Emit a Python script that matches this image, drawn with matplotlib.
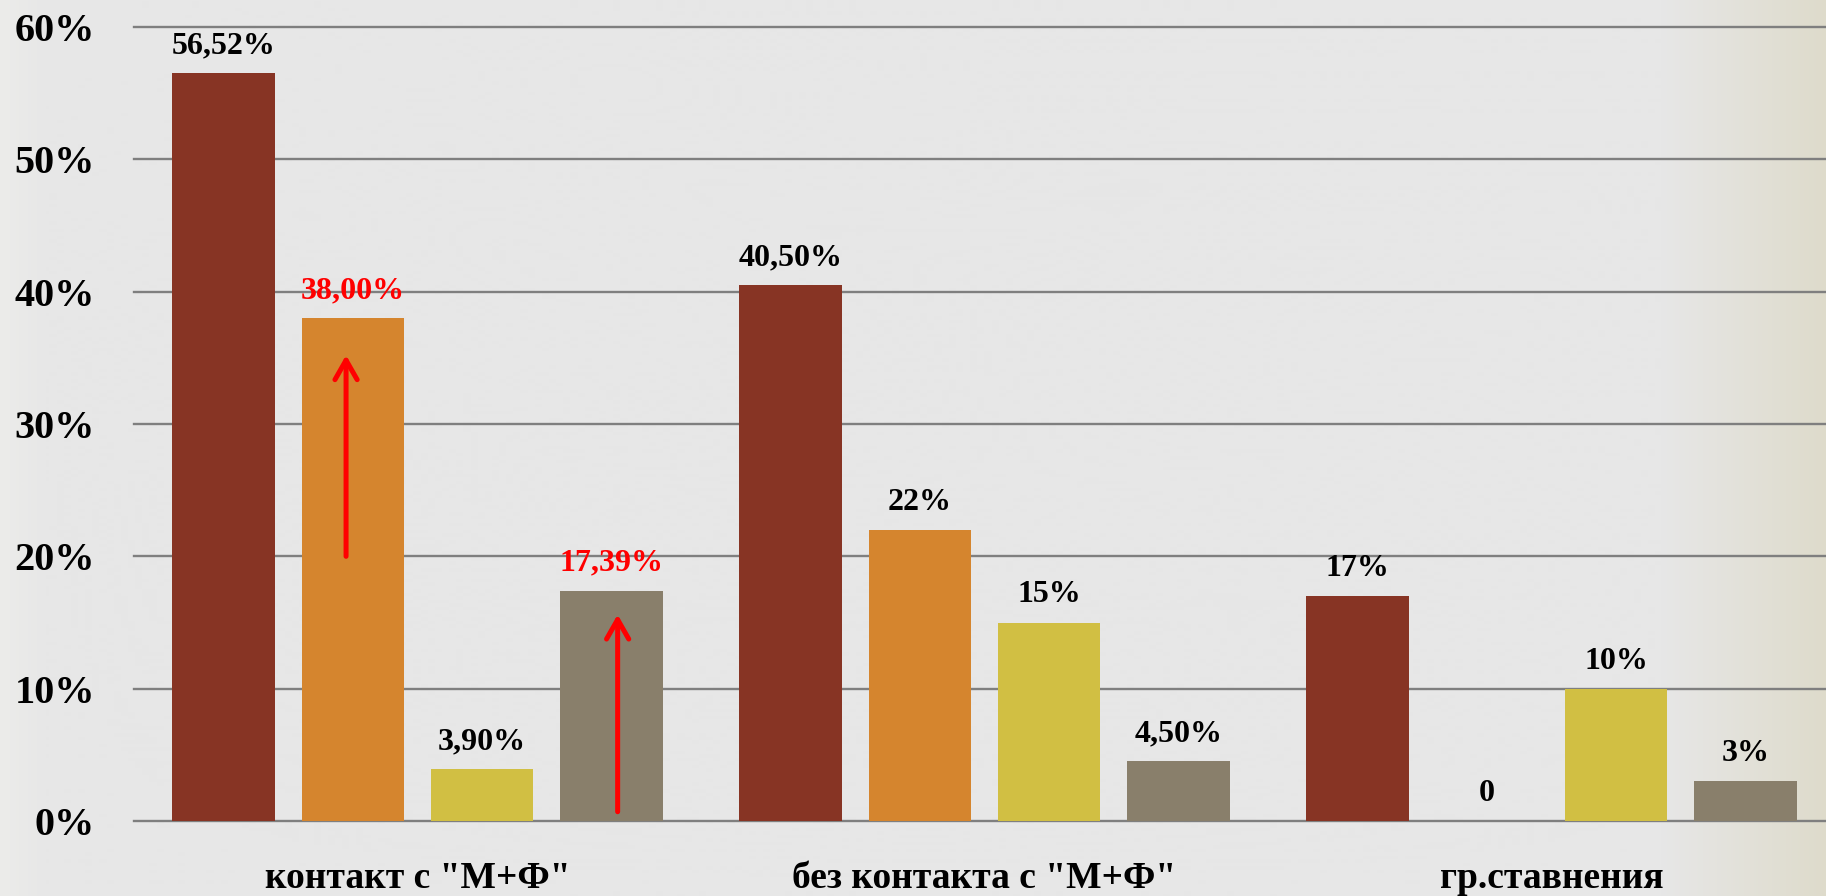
import numpy as np
import matplotlib
matplotlib.use("Agg")
import matplotlib.pyplot as plt

# ---- data -------------------------------------------------------------
categories = ['контакт с "М+Ф"', 'без контакта с "М+Ф"', 'гр.ставнения']
series_values = [
    [56.52, 40.50, 17.0],   # series 1
    [38.00, 22.0, 0.0],     # series 2
    [3.90, 15.0, 10.0],     # series 3
    [17.39, 4.50, 3.0],     # series 4
]
value_labels = [
    ["56,52%", "40,50%", "17%"],
    ["38,00%", "22%", "0"],
    ["3,90%", "15%", "10%"],
    ["17,39%", "4,50%", "3%"],
]
highlighted = {(1, 0), (3, 0)}            # (series, category) labels in red
ytick_values = [0, 10, 20, 30, 40, 50, 60]
ytick_labels = ["0%", "10%", "20%", "30%", "40%", "50%", "60%"]
# growth arrows: (series, category, from, to)
arrows = [(1, 0, 20.0, 35.2), (3, 0, 0.7, 15.6)]
arrow_shift = [-0.012, 0.011]             # small sideways nudge inside the bar

colors = ["#873424", "#D5852E", "#D1BF43", "#897F6B"]
FONT = "Liberation Serif"

W, H, DPI = 1826, 896, 100
fig = plt.figure(figsize=(W / DPI, H / DPI), dpi=DPI)

# ---- background: light grey with a warm fade on the right --------------
bg_ax = fig.add_axes([0, 0, 1, 1], zorder=-10)
xs = np.arange(W)
base = np.array([0xE7, 0xE7, 0xE7], float)
warm = np.array([0xDE, 0xDB, 0xCB], float)
left = np.array([0xEC, 0xEC, 0xEA], float)
t_right = np.clip((xs - 1660) / (W - 1660), 0, 1)[:, None]
t_left = np.clip(1 - xs / 45, 0, 1)[:, None]
row = base * (1 - t_right) + warm * t_right
row = row * (1 - t_left) + left * t_left
bg = np.repeat(row[None, :, :], H, axis=0) / 255.0
bg_ax.imshow(bg, aspect="auto", extent=[0, 1, 0, 1])
bg_ax.set_axis_off()

# ---- chart ------------------------------------------------------------
x0, x1 = 134, W
y0, y1 = 821, 27
ax = fig.add_axes([x0 / W, 1 - y0 / H, (x1 - x0) / W, (y0 - y1) / H])
ax.set_facecolor("none")

cat_px = 567.0
ax.set_xlim(-0.5, -0.5 + (x1 - x0) / cat_px)
ax.set_ylim(0, 60)

step = 0.228
width = 0.181
xc = np.arange(len(categories))

for i, vals in enumerate(series_values):
    pos = xc + (i - 1.5) * step
    ax.bar(pos, vals, width=width, color=colors[i], zorder=3, linewidth=0)
    for j, (p, v) in enumerate(zip(pos, vals)):
        c = "#FF0000" if (i, j) in highlighted else "black"
        ax.annotate(value_labels[i][j], xy=(p, v), xytext=(0, 14.5),
                    textcoords="offset points", ha="center", va="baseline",
                    fontsize=23, fontweight="bold", family=FONT, color=c,
                    zorder=5)

for (s, cidx, y_from, y_to), dx in zip(arrows, arrow_shift):
    xa = xc[cidx] + (s - 1.5) * step + dx
    ax.annotate("", xy=(xa, y_to), xytext=(xa, y_from),
                arrowprops=dict(arrowstyle="->,head_length=1.4,head_width=0.8",
                                color="#FF0000", lw=3.6, capstyle="round",
                                joinstyle="round", shrinkA=0, shrinkB=0),
                zorder=6)

# grid
ax.set_yticks(ytick_values)
ax.set_yticklabels(ytick_labels, family=FONT, fontweight="bold", fontsize=29)
ax.yaxis.grid(True, color="#7F7F7F", linewidth=1.7, zorder=1)
for gl in ax.get_ygridlines():
    gl.set_clip_on(False)
ax.tick_params(axis="y", length=0, pad=28)
for lbl in ax.get_yticklabels():
    lbl.set_va("center_baseline")

ax.set_xticks(xc)
ax.set_xticklabels(categories, family=FONT, fontweight="bold", fontsize=27)
ax.tick_params(axis="x", length=0, pad=48)
for lbl in ax.get_xticklabels():
    lbl.set_va("baseline")

for sp in ax.spines.values():
    sp.set_visible(False)
ax.set_axisbelow(True)

fig.savefig("out.png", dpi=DPI)
